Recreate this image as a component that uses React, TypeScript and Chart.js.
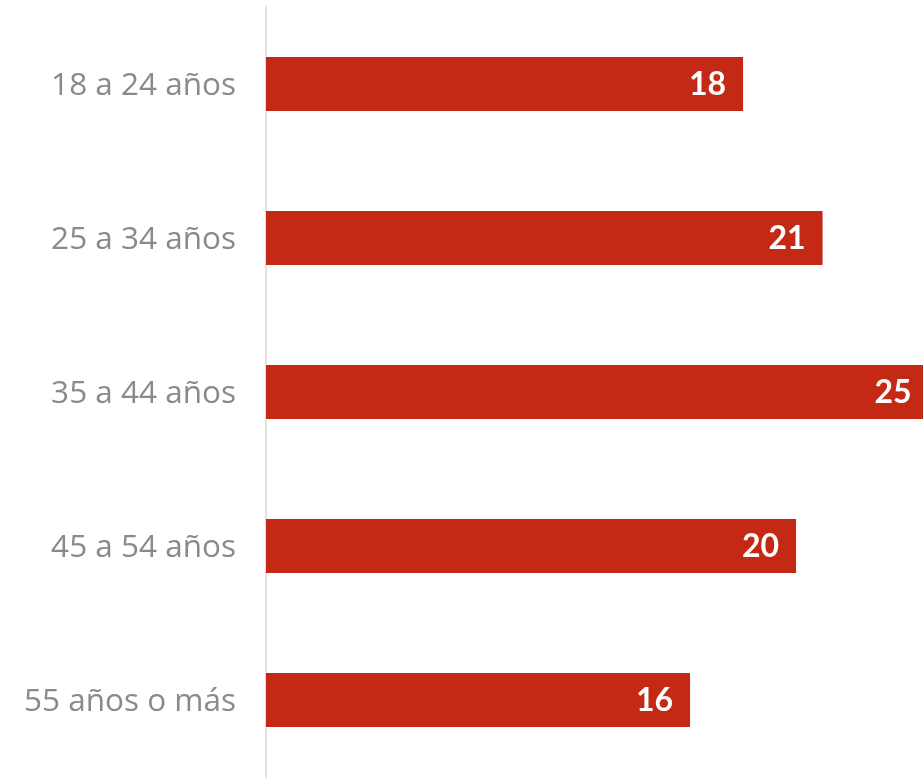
import React, { useEffect, useRef } from "react";
import { Chart, registerables } from "chart.js";

Chart.register(...registerables);

const categories = ["18 a 24 años", "25 a 34 años", "35 a 44 años", "45 a 54 años", "55 años o más"];
const values = [18, 21, 25, 20, 16];

const valueLabelPlugin = {
  id: "valueLabels",
  afterDatasetsDraw(chart: any) {
    const ctx = chart.ctx;
    const meta = chart.getDatasetMeta(0);
    ctx.save();
    ctx.fillStyle = "#ffffff";
    ctx.font = "bold 32px Lato";
    ctx.textAlign = "right";
    ctx.textBaseline = "middle";
    meta.data.forEach((bar: any, i: number) => {
      ctx.fillText(String(values[i]), bar.x - 17, bar.y + 1);
    });
    ctx.restore();
  },
};

export default function App() {
  const ref = useRef<HTMLCanvasElement>(null);
  useEffect(() => {
    document.body.style.margin = "0";
    const chart = new Chart(ref.current!, {
      type: "bar",
      data: {
        labels: categories,
        datasets: [
          {
            data: values,
            backgroundColor: "#c42915",
            barPercentage: 0.35,
            categoryPercentage: 1,
          },
        ],
      },
      options: {
        indexAxis: "y",
        animation: false,
        responsive: false,
        layout: { padding: { top: 7, bottom: 1, left: 0, right: 0 } },
        plugins: { legend: { display: false }, tooltip: { enabled: false } },
        scales: {
          x: { display: false, min: 0, max: 24.79 },
          y: {
            afterFit: (s: any) => {
              s.width = 266;
              s.paddingTop = 0;
              s.paddingBottom = 0;
            },
            grid: { display: false, drawTicks: false },
            border: { display: true, color: "#e2e2e2", width: 2 },
            ticks: {
              padding: 30,
              labelOffset: 2,
              color: "#8a8a8a",
              font: { family: "Open Sans", size: 31.5 },
            },
          },
        },
      },
      plugins: [valueLabelPlugin],
    });
    return () => chart.destroy();
  }, []);
  return <canvas ref={ref} width={923} height={778} style={{ display: "block" }} />;
}
